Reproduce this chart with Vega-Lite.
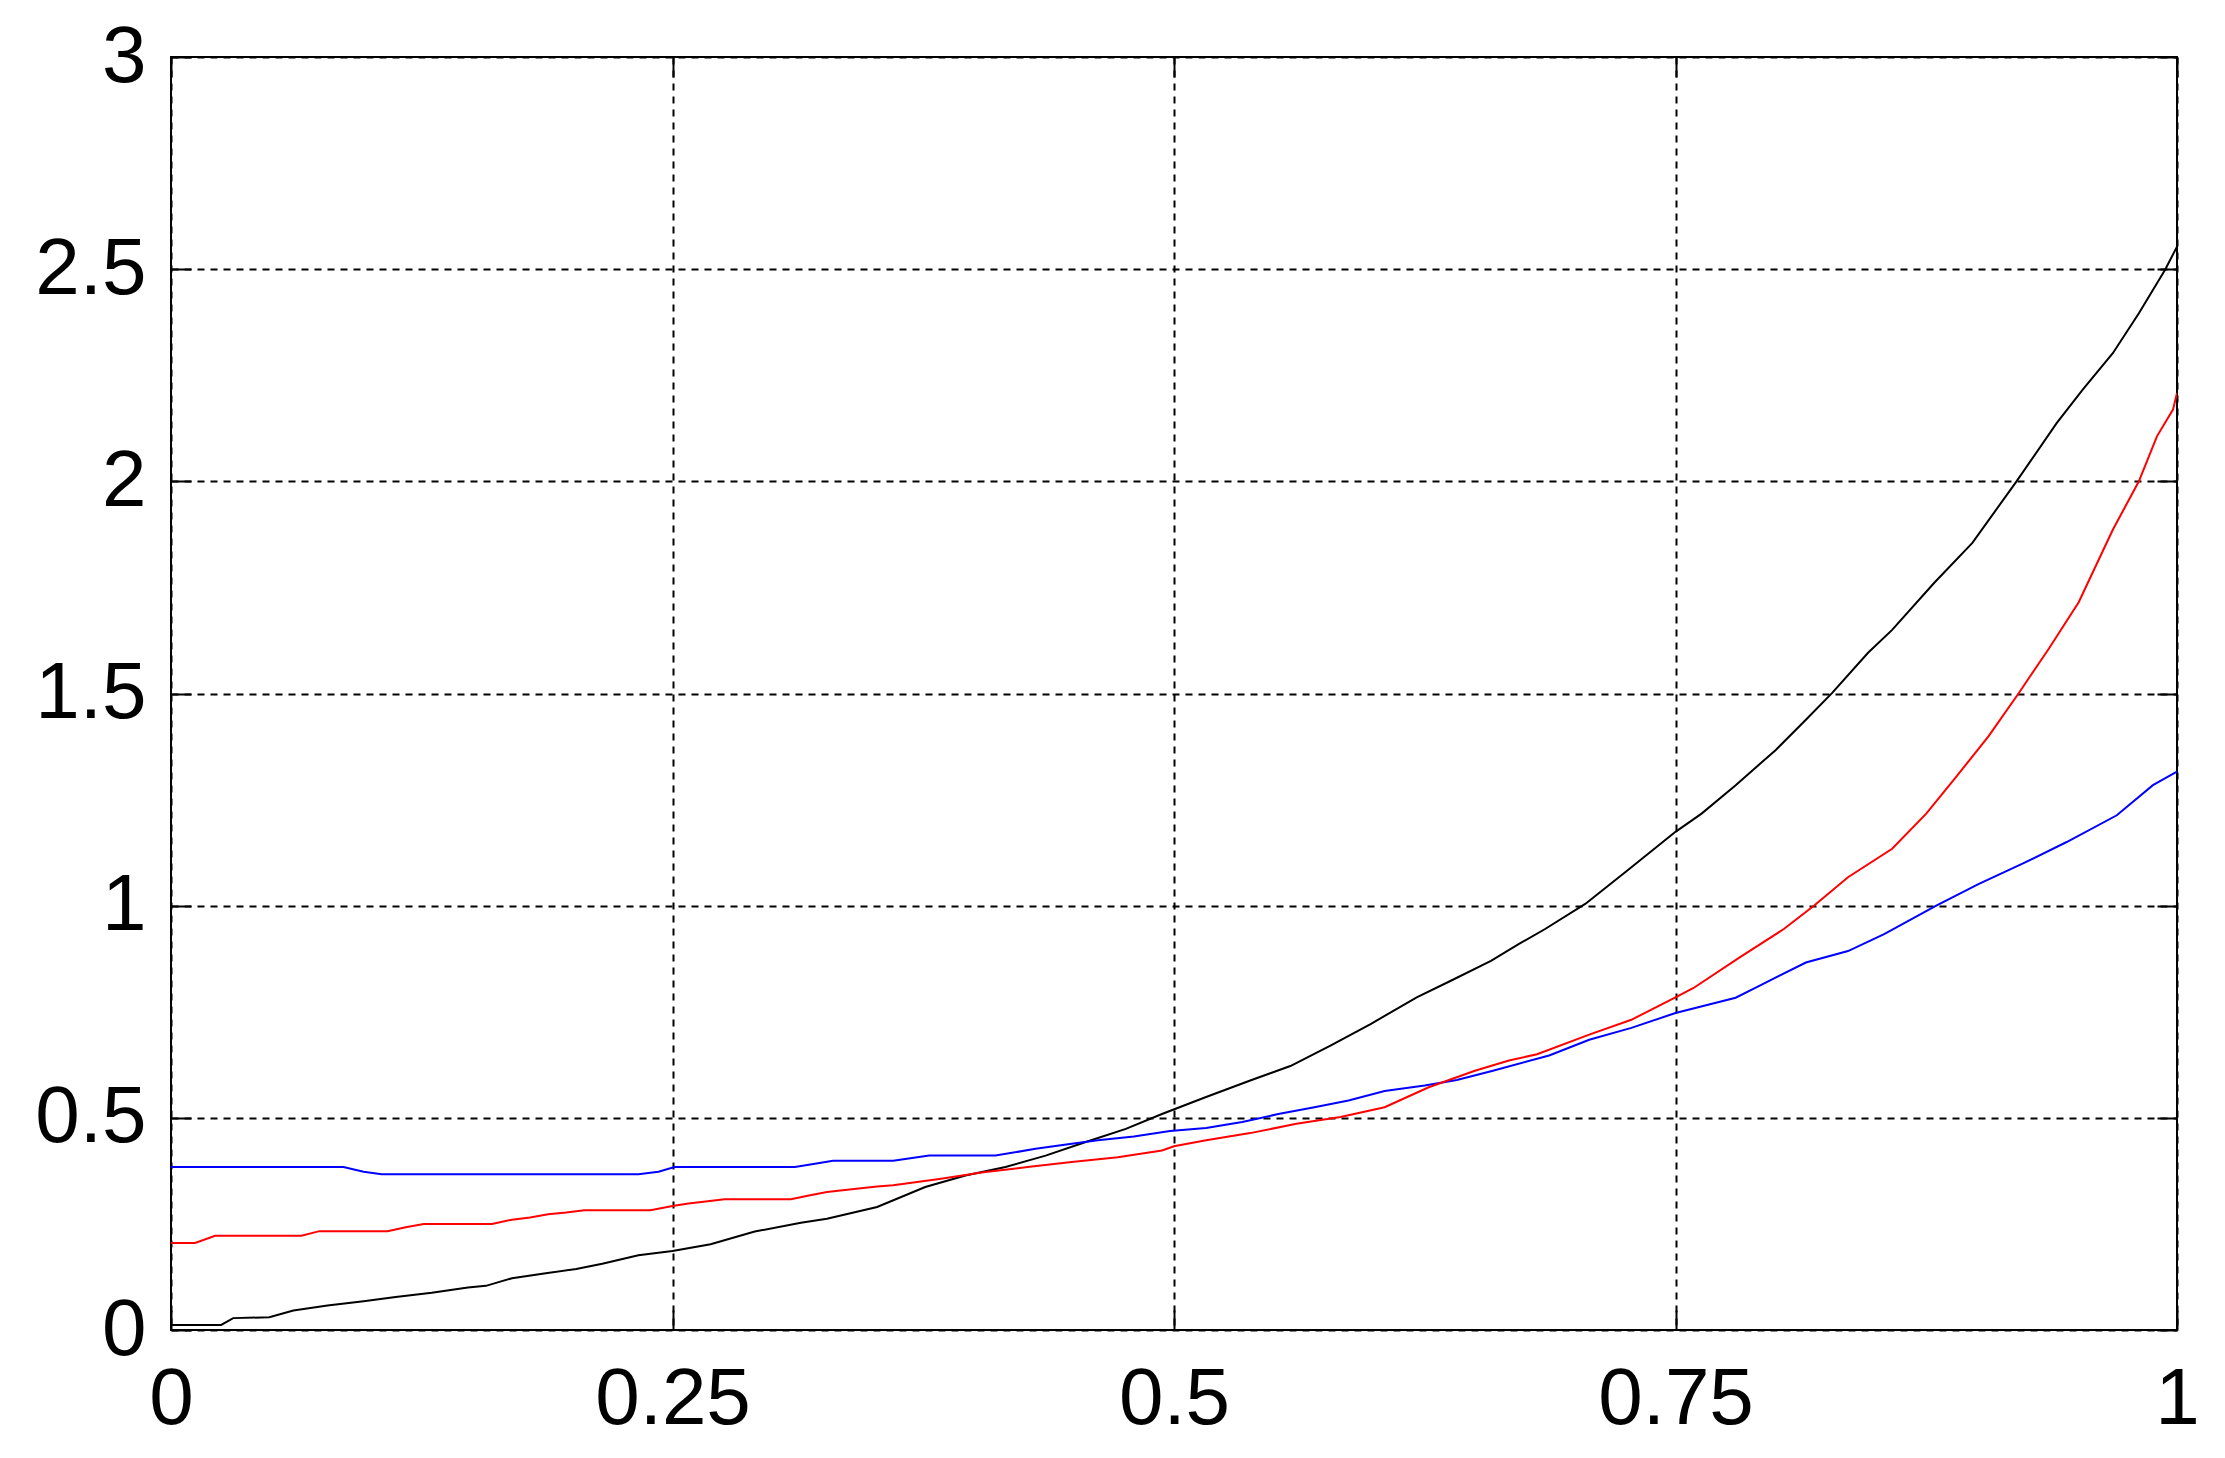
{
  "$schema": "https://vega.github.io/schema/vega-lite/v6.json",
  "width": 2006,
  "height": 1273,
  "autosize": "none",
  "padding": {"left": 171, "top": 57, "right": 48, "bottom": 128},
  "background": "white",
  "config": {"view": {"stroke": "black", "strokeWidth": 2}, "font": "Liberation Sans"},
  "data": {"values": [
    {"s": "black", "x": 0, "y": 0.012},
    {"s": "black", "x": 0.025, "y": 0.012},
    {"s": "black", "x": 0.031, "y": 0.028},
    {"s": "black", "x": 0.049, "y": 0.030},
    {"s": "black", "x": 0.061, "y": 0.046},
    {"s": "black", "x": 0.078, "y": 0.058},
    {"s": "black", "x": 0.096, "y": 0.068},
    {"s": "black", "x": 0.112, "y": 0.078},
    {"s": "black", "x": 0.130, "y": 0.088},
    {"s": "black", "x": 0.148, "y": 0.100},
    {"s": "black", "x": 0.157, "y": 0.104},
    {"s": "black", "x": 0.170, "y": 0.122},
    {"s": "black", "x": 0.186, "y": 0.133},
    {"s": "black", "x": 0.202, "y": 0.144},
    {"s": "black", "x": 0.215, "y": 0.156},
    {"s": "black", "x": 0.233, "y": 0.176},
    {"s": "black", "x": 0.25, "y": 0.186},
    {"s": "black", "x": 0.269, "y": 0.202},
    {"s": "black", "x": 0.291, "y": 0.232},
    {"s": "black", "x": 0.314, "y": 0.253},
    {"s": "black", "x": 0.327, "y": 0.262},
    {"s": "black", "x": 0.352, "y": 0.290},
    {"s": "black", "x": 0.376, "y": 0.337},
    {"s": "black", "x": 0.396, "y": 0.364},
    {"s": "black", "x": 0.416, "y": 0.384},
    {"s": "black", "x": 0.436, "y": 0.411},
    {"s": "black", "x": 0.456, "y": 0.443},
    {"s": "black", "x": 0.476, "y": 0.474},
    {"s": "black", "x": 0.494, "y": 0.509},
    {"s": "black", "x": 0.516, "y": 0.549},
    {"s": "black", "x": 0.538, "y": 0.588},
    {"s": "black", "x": 0.558, "y": 0.622},
    {"s": "black", "x": 0.578, "y": 0.670},
    {"s": "black", "x": 0.598, "y": 0.721},
    {"s": "black", "x": 0.621, "y": 0.784},
    {"s": "black", "x": 0.638, "y": 0.823},
    {"s": "black", "x": 0.658, "y": 0.870},
    {"s": "black", "x": 0.672, "y": 0.910},
    {"s": "black", "x": 0.685, "y": 0.945},
    {"s": "black", "x": 0.705, "y": 1.004},
    {"s": "black", "x": 0.726, "y": 1.083},
    {"s": "black", "x": 0.75, "y": 1.174},
    {"s": "black", "x": 0.763, "y": 1.217},
    {"s": "black", "x": 0.780, "y": 1.284},
    {"s": "black", "x": 0.800, "y": 1.367},
    {"s": "black", "x": 0.815, "y": 1.438},
    {"s": "black", "x": 0.828, "y": 1.501},
    {"s": "black", "x": 0.846, "y": 1.596},
    {"s": "black", "x": 0.858, "y": 1.650},
    {"s": "black", "x": 0.879, "y": 1.761},
    {"s": "black", "x": 0.898, "y": 1.855},
    {"s": "black", "x": 0.920, "y": 2.000},
    {"s": "black", "x": 0.940, "y": 2.137},
    {"s": "black", "x": 0.953, "y": 2.216},
    {"s": "black", "x": 0.968, "y": 2.302},
    {"s": "black", "x": 0.981, "y": 2.396},
    {"s": "black", "x": 0.994, "y": 2.498},
    {"s": "black", "x": 1.0, "y": 2.553},
    {"s": "blue", "x": 0, "y": 0.384},
    {"s": "blue", "x": 0.086, "y": 0.384},
    {"s": "blue", "x": 0.096, "y": 0.373},
    {"s": "blue", "x": 0.105, "y": 0.367},
    {"s": "blue", "x": 0.233, "y": 0.367},
    {"s": "blue", "x": 0.243, "y": 0.373},
    {"s": "blue", "x": 0.251, "y": 0.384},
    {"s": "blue", "x": 0.311, "y": 0.384},
    {"s": "blue", "x": 0.321, "y": 0.392},
    {"s": "blue", "x": 0.330, "y": 0.399},
    {"s": "blue", "x": 0.360, "y": 0.399},
    {"s": "blue", "x": 0.378, "y": 0.411},
    {"s": "blue", "x": 0.411, "y": 0.411},
    {"s": "blue", "x": 0.431, "y": 0.427},
    {"s": "blue", "x": 0.449, "y": 0.439},
    {"s": "blue", "x": 0.462, "y": 0.447},
    {"s": "blue", "x": 0.480, "y": 0.456},
    {"s": "blue", "x": 0.498, "y": 0.469},
    {"s": "blue", "x": 0.516, "y": 0.476},
    {"s": "blue", "x": 0.534, "y": 0.490},
    {"s": "blue", "x": 0.552, "y": 0.509},
    {"s": "blue", "x": 0.570, "y": 0.525},
    {"s": "blue", "x": 0.587, "y": 0.541},
    {"s": "blue", "x": 0.605, "y": 0.563},
    {"s": "blue", "x": 0.625, "y": 0.576},
    {"s": "blue", "x": 0.641, "y": 0.589},
    {"s": "blue", "x": 0.659, "y": 0.611},
    {"s": "blue", "x": 0.687, "y": 0.647},
    {"s": "blue", "x": 0.707, "y": 0.684},
    {"s": "blue", "x": 0.728, "y": 0.712},
    {"s": "blue", "x": 0.75, "y": 0.747},
    {"s": "blue", "x": 0.780, "y": 0.783},
    {"s": "blue", "x": 0.793, "y": 0.814},
    {"s": "blue", "x": 0.815, "y": 0.866},
    {"s": "blue", "x": 0.836, "y": 0.893},
    {"s": "blue", "x": 0.854, "y": 0.933},
    {"s": "blue", "x": 0.880, "y": 1.000},
    {"s": "blue", "x": 0.901, "y": 1.051},
    {"s": "blue", "x": 0.923, "y": 1.099},
    {"s": "blue", "x": 0.945, "y": 1.150},
    {"s": "blue", "x": 0.970, "y": 1.213},
    {"s": "blue", "x": 0.988, "y": 1.284},
    {"s": "blue", "x": 1.0, "y": 1.316},
    {"s": "red", "x": 0, "y": 0.205},
    {"s": "red", "x": 0.012, "y": 0.205},
    {"s": "red", "x": 0.022, "y": 0.222},
    {"s": "red", "x": 0.065, "y": 0.222},
    {"s": "red", "x": 0.074, "y": 0.233},
    {"s": "red", "x": 0.108, "y": 0.233},
    {"s": "red", "x": 0.117, "y": 0.242},
    {"s": "red", "x": 0.126, "y": 0.250},
    {"s": "red", "x": 0.160, "y": 0.250},
    {"s": "red", "x": 0.170, "y": 0.260},
    {"s": "red", "x": 0.179, "y": 0.265},
    {"s": "red", "x": 0.188, "y": 0.273},
    {"s": "red", "x": 0.197, "y": 0.277},
    {"s": "red", "x": 0.206, "y": 0.282},
    {"s": "red", "x": 0.239, "y": 0.282},
    {"s": "red", "x": 0.25, "y": 0.292},
    {"s": "red", "x": 0.258, "y": 0.298},
    {"s": "red", "x": 0.276, "y": 0.308},
    {"s": "red", "x": 0.309, "y": 0.308},
    {"s": "red", "x": 0.318, "y": 0.317},
    {"s": "red", "x": 0.327, "y": 0.325},
    {"s": "red", "x": 0.336, "y": 0.330},
    {"s": "red", "x": 0.352, "y": 0.338},
    {"s": "red", "x": 0.360, "y": 0.341},
    {"s": "red", "x": 0.383, "y": 0.356},
    {"s": "red", "x": 0.405, "y": 0.372},
    {"s": "red", "x": 0.427, "y": 0.384},
    {"s": "red", "x": 0.449, "y": 0.396},
    {"s": "red", "x": 0.472, "y": 0.407},
    {"s": "red", "x": 0.494, "y": 0.423},
    {"s": "red", "x": 0.5, "y": 0.433},
    {"s": "red", "x": 0.516, "y": 0.447},
    {"s": "red", "x": 0.538, "y": 0.464},
    {"s": "red", "x": 0.561, "y": 0.486},
    {"s": "red", "x": 0.583, "y": 0.502},
    {"s": "red", "x": 0.605, "y": 0.525},
    {"s": "red", "x": 0.627, "y": 0.572},
    {"s": "red", "x": 0.650, "y": 0.611},
    {"s": "red", "x": 0.667, "y": 0.635},
    {"s": "red", "x": 0.681, "y": 0.650},
    {"s": "red", "x": 0.707, "y": 0.696},
    {"s": "red", "x": 0.728, "y": 0.731},
    {"s": "red", "x": 0.75, "y": 0.784},
    {"s": "red", "x": 0.759, "y": 0.806},
    {"s": "red", "x": 0.782, "y": 0.878},
    {"s": "red", "x": 0.804, "y": 0.945},
    {"s": "red", "x": 0.819, "y": 1.000},
    {"s": "red", "x": 0.836, "y": 1.067},
    {"s": "red", "x": 0.858, "y": 1.134},
    {"s": "red", "x": 0.875, "y": 1.217},
    {"s": "red", "x": 0.890, "y": 1.304},
    {"s": "red", "x": 0.906, "y": 1.399},
    {"s": "red", "x": 0.921, "y": 1.500},
    {"s": "red", "x": 0.936, "y": 1.605},
    {"s": "red", "x": 0.951, "y": 1.715},
    {"s": "red", "x": 0.968, "y": 1.886},
    {"s": "red", "x": 0.981, "y": 2.000},
    {"s": "red", "x": 0.990, "y": 2.106},
    {"s": "red", "x": 0.998, "y": 2.169},
    {"s": "red", "x": 1.0, "y": 2.208}
  ]},
  "layer": [
    {
      "mark": {"type": "line", "strokeWidth": 2, "clip": true},
      "encoding": {
        "x": {"field": "x", "type": "quantitative",
          "scale": {"domain": [0, 1], "nice": false, "zero": false},
          "axis": {"values": [0, 0.25, 0.5, 0.75, 1], "labelExpr": "'' + datum.value", "title": null,
            "labelFontSize": 80, "labelFont": "Liberation Sans", "labelColor": "black",
            "labelFlush": false, "labelOverlap": false, "labelPadding": 50,
            "tickSize": -20, "tickColor": "black", "tickWidth": 2, "domain": false,
            "grid": true, "gridColor": "black", "gridDash": [7, 6], "gridWidth": 2, "gridOpacity": 1}},
        "y": {"field": "y", "type": "quantitative",
          "scale": {"domain": [0, 3], "nice": false, "zero": false},
          "axis": {"values": [0, 0.5, 1, 1.5, 2, 2.5, 3], "labelExpr": "'' + datum.value", "title": null,
            "labelFontSize": 80, "labelFont": "Liberation Sans", "labelColor": "black",
            "labelFlush": false, "labelOverlap": false, "labelPadding": 45,
            "tickSize": -20, "tickColor": "black", "tickWidth": 2, "domain": false,
            "grid": true, "gridColor": "black", "gridDash": [7, 6], "gridWidth": 2, "gridOpacity": 1}},
        "color": {"field": "s", "type": "nominal",
          "scale": {"domain": ["black", "blue", "red"], "range": ["#000000", "#0000ff", "#ff0000"]},
          "legend": null}
      }
    },
    {
      "mark": {"type": "line", "strokeOpacity": 0},
      "encoding": {
        "x": {"field": "x", "type": "quantitative",
          "scale": {"domain": [0, 1], "nice": false, "zero": false},
          "axis": {"orient": "top", "values": [0, 0.25, 0.5, 0.75, 1], "title": null, "labels": false,
            "tickSize": -20, "tickColor": "black", "tickWidth": 2, "domain": false, "grid": false}},
        "y": {"field": "y", "type": "quantitative",
          "scale": {"domain": [0, 3], "nice": false, "zero": false},
          "axis": {"orient": "right", "values": [0, 0.5, 1, 1.5, 2, 2.5, 3], "title": null, "labels": false,
            "tickSize": -20, "tickColor": "black", "tickWidth": 2, "domain": false, "grid": false}},
        "detail": {"field": "s", "type": "nominal"}
      }
    }
  ],
  "resolve": {"scale": {"x": "independent", "y": "independent"}, "axis": {"x": "independent", "y": "independent"}}
}
